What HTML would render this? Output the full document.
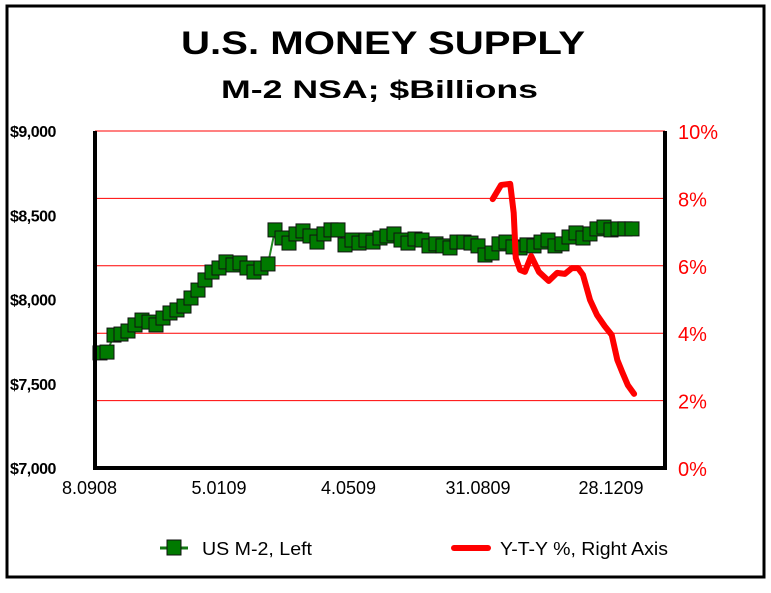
<!DOCTYPE html>
<html><head><meta charset="utf-8"><style>
body{margin:0;background:#fff;}
svg text{font-family:"Liberation Sans",Arial,sans-serif;}
</style></head><body>
<svg width="771" height="588" viewBox="0 0 771 588">
<rect x="7" y="6" width="757" height="571" fill="#fff" stroke="#000" stroke-width="3"/>
<text x="181" y="54" textLength="404" lengthAdjust="spacingAndGlyphs" font-size="32" font-weight="bold">U.S. MONEY SUPPLY</text>
<text x="221" y="98" textLength="317" lengthAdjust="spacingAndGlyphs" font-size="25" font-weight="bold">M-2 NSA; $Billions</text>
<g id="grid"></g>
<g id="series"></g>
<g id="axes"></g>
<g>
<g>
<line x1="160" y1="548" x2="188" y2="548" stroke="#117711" stroke-width="3"/>
<rect x="167" y="540" width="14" height="15" fill="#007a00" stroke="#111" stroke-width="1"/>
<text x="202" y="555" font-size="18" textLength="110" lengthAdjust="spacingAndGlyphs">US M-2, Left</text></g>
<g>
<line x1="454" y1="548" x2="488" y2="548" stroke="#f00" stroke-width="6" stroke-linecap="round"/>
<text x="500" y="555" font-size="18" textLength="168" lengthAdjust="spacingAndGlyphs">Y-T-Y %, Right Axis</text></g>
</g>
</svg>
<script>
const leftTicks=["$7,000","$7,500","$8,000","$8,500","$9,000"];
const leftTickValues=[7000,7500,8000,8500,9000];
const rightTicks=["0%","2%","4%","6%","8%","10%"];
const rightTickValues=[0,2,4,6,8,10];
const xTickLabels=["8.0908","5.0109","4.0509","31.0809","28.1209"];
const xTickIndex=[-1.5,17,35.5,54,73];
const m2Values=[7683,7688,7789,7795,7813,7849,7878,7866,7849,7890,7920,7938,7961,8009,8056,8116,8163,8187,8223,8205,8217,8187,8163,8187,8211,8413,8365,8335,8389,8407,8377,8341,8389,8413,8413,8324,8353,8335,8353,8341,8365,8377,8389,8353,8335,8359,8353,8318,8330,8318,8306,8341,8341,8335,8318,8264,8276,8330,8341,8312,8306,8324,8318,8341,8353,8318,8330,8371,8395,8365,8389,8419,8430,8413,8419,8419,8419];
const ytyIndex=[56.1,57.3,58.6,59.1,59.4,60,60.7,61.6,62.7,64.1,65.3,66.4,67.4,68.3,69,70,71,72.1,73.1,73.9,74.6,75.4,76.3];
const ytyValues=[7.98,8.40,8.43,7.57,6.23,5.88,5.82,6.29,5.82,5.55,5.79,5.76,5.93,5.93,5.73,4.99,4.54,4.21,3.95,3.21,2.85,2.46,2.20];
const NS="http://www.w3.org/2000/svg";
const X0=100,X1=632,L=95,R=665,T=131,B=468;
const xs=i=>X0+i*(X1-X0)/(m2Values.length-1);
const yl=v=>B-(v-7000)/2000*(B-T);
const yr=v=>B-v/10*(B-T);
function mk(tag,attrs,parent){const e=document.createElementNS(NS,tag);for(const k in attrs)e.setAttribute(k,attrs[k]);parent.appendChild(e);return e;}
const grid=document.getElementById('grid'),ser=document.getElementById('series'),ax=document.getElementById('axes');
rightTickValues.forEach((v,i)=>{
 if(v>0){const g=mk('line',{x1:L,x2:R,y1:yr(v),y2:yr(v),stroke:'#f00','stroke-width':1},grid);
 
 }
 const t=mk('text',{x:678,y:yr(v)+8,'font-size':20,fill:'#f00'},ax);t.textContent=rightTicks[i];
 
 
});
leftTickValues.forEach((v,i)=>{
 const t=mk('text',{x:10,y:yl(v)+6,'font-size':16,'font-weight':'bold','letter-spacing':'-0.5'},ax);t.textContent=leftTicks[i];
 
 
});
xTickLabels.forEach((s,i)=>{
 const t=mk('text',{x:xs(xTickIndex[i]),y:494,'font-size':18,'text-anchor':'middle'},ax);t.textContent=s;
 
 
});
const frame=mk('path',{d:`M${L},${T} V${B} H${R} V${T}`,fill:'none',stroke:'#000','stroke-width':4},ax);


const ml=mk('polyline',{points:m2Values.map((v,i)=>xs(i)+','+yl(v)).join(' '),fill:'none',stroke:'#228822','stroke-width':2},ser);


m2Values.forEach((v,i)=>{
 const r=mk('rect',{x:xs(i)-7,y:yl(v)-7,width:14,height:14,fill:'#007a00',stroke:'#111','stroke-width':1},ser);
 
 
});
const rl=mk('polyline',{points:ytyValues.map((v,i)=>xs(ytyIndex[i])+','+yr(v)).join(' '),fill:'none',stroke:'#f00','stroke-width':6,'stroke-linejoin':'round','stroke-linecap':'round'},ser);


</script>
</body></html>
